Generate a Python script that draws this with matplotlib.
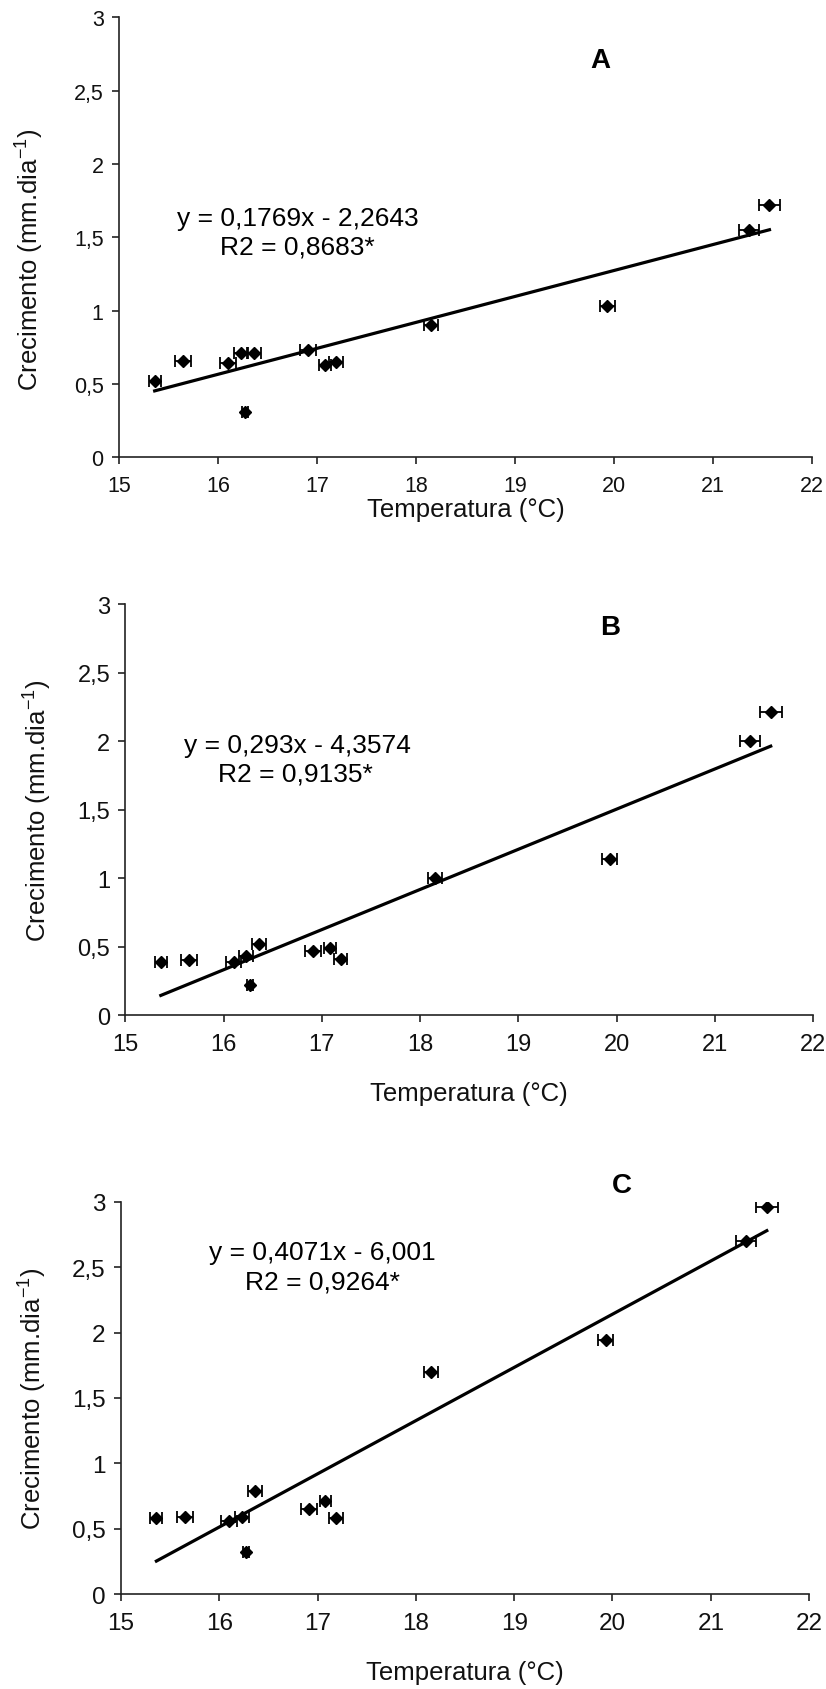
import matplotlib
matplotlib.use('Agg')
import matplotlib.pyplot as plt
import numpy as np

plt.rcParams['font.family'] = ['Liberation Sans', 'DejaVu Sans']
plt.rcParams['mathtext.fontset'] = 'custom'
plt.rcParams['mathtext.rm'] = 'Liberation Sans'
plt.rcParams['mathtext.it'] = 'Liberation Sans'

# ---- data ----
temperatura = [15.36, 15.65, 16.10, 16.23, 16.36, 16.27, 16.91, 17.08, 17.19, 18.15, 19.93, 21.36, 21.57]
temp_err = [0.06, 0.08, 0.08, 0.07, 0.07, 0.03, 0.08, 0.06, 0.07, 0.07, 0.075, 0.10, 0.11]
crec_A = [0.52, 0.66, 0.64, 0.71, 0.71, 0.31, 0.73, 0.63, 0.65, 0.90, 1.03, 1.55, 1.72]
crec_B = [0.39, 0.40, 0.39, 0.43, 0.52, 0.22, 0.47, 0.49, 0.41, 1.00, 1.14, 2.00, 2.21]
crec_C = [0.58, 0.59, 0.56, 0.59, 0.79, 0.32, 0.65, 0.71, 0.58, 1.70, 1.94, 2.70, 2.96]
slopes = [0.1769, 0.293, 0.4071]
intercepts = [-2.2643, -4.3574, -6.001]
eq_line1 = ["y = 0,1769x - 2,2643", "y = 0,293x - 4,3574", "y = 0,4071x - 6,001"]
eq_line2 = ["R2 = 0,8683*", "R2 = 0,9135*", "R2 = 0,9264*"]
panel_letters = ["A", "B", "C"]
x_ticks = [15, 16, 17, 18, 19, 20, 21, 22]
y_ticks = [0, 0.5, 1, 1.5, 2, 2.5, 3]
y_tick_labels = ["0", "0,5", "1", "1,5", "2", "2,5", "3"]
x_label = "Temperatura (°C)"
y_label = "Crecimento (mm.dia$^{-1}$)"

series = [crec_A, crec_B, crec_C]

# ---- layout ----
rects = [[0.1441, 0.7288, 0.839, 0.2604],
         [0.1519, 0.3988, 0.8323, 0.2432],
         [0.1465, 0.0562, 0.833, 0.2320]]
tick_fs = [15.5, 17, 17.5]
label_fs = 18.5
eq_fs = 19
letter_pos = [(19.86, 2.71), (19.93, 2.83), (20.10, 3.13)]
eq_pos = [((16.81, 1.633), (16.80, 1.44)),
          ((16.75, 1.974), (16.73, 1.766)),
          ((17.05, 2.617), (17.05, 2.394))]
ylabel_y = [0.45, 0.5, 0.5]
xlabel_off = [-0.118, -0.19, -0.198]

fig = plt.figure(figsize=(8.26, 16.9), dpi=100)

for i in range(3):
    ax = fig.add_axes(rects[i])
    y = series[i]
    ax.errorbar(temperatura, y, xerr=temp_err, fmt='D', color='black',
                ms=6.5, capsize=4.5, elinewidth=1.3, capthick=1.3, zorder=3)
    xf = np.array([min(temperatura), max(temperatura)])
    ax.plot(xf, slopes[i] * xf + intercepts[i], color='black', lw=2.3, zorder=2)

    ax.set_xlim(15, 22)
    ax.set_ylim(0, 3)
    ax.set_xticks(x_ticks)
    ax.set_xticklabels([str(t) for t in x_ticks])
    ax.set_yticks(y_ticks)
    ax.set_yticklabels(y_tick_labels)
    for s in ['top', 'right']:
        ax.spines[s].set_visible(False)
    for s in ['left', 'bottom']:
        ax.spines[s].set_linewidth(1.2)
        ax.spines[s].set_color('#222222')
    ax.tick_params(axis='both', direction='out', length=5, width=1.2,
                   color='#222222', labelsize=tick_fs[i], labelcolor='#111111')
    ax.tick_params(axis='x', pad=8)
    ax.tick_params(axis='y', pad=6)

    ax.set_xlabel(x_label, fontsize=label_fs, color='#111111', va='center')
    ax.xaxis.set_label_coords(0.5, xlabel_off[i])
    ax.set_ylabel(y_label, fontsize=label_fs, color='#111111', va='center')
    ax.yaxis.set_label_coords(-0.128, ylabel_y[i])

    ax.text(letter_pos[i][0], letter_pos[i][1], panel_letters[i], fontsize=20,
            fontweight='bold', ha='center', va='center')
    (x1, y1), (x2, y2) = eq_pos[i]
    ax.text(x1, y1, eq_line1[i], fontsize=eq_fs, ha='center', va='center')
    ax.text(x2, y2, eq_line2[i], fontsize=eq_fs, ha='center', va='center')

fig.savefig('out.png', dpi=100)
